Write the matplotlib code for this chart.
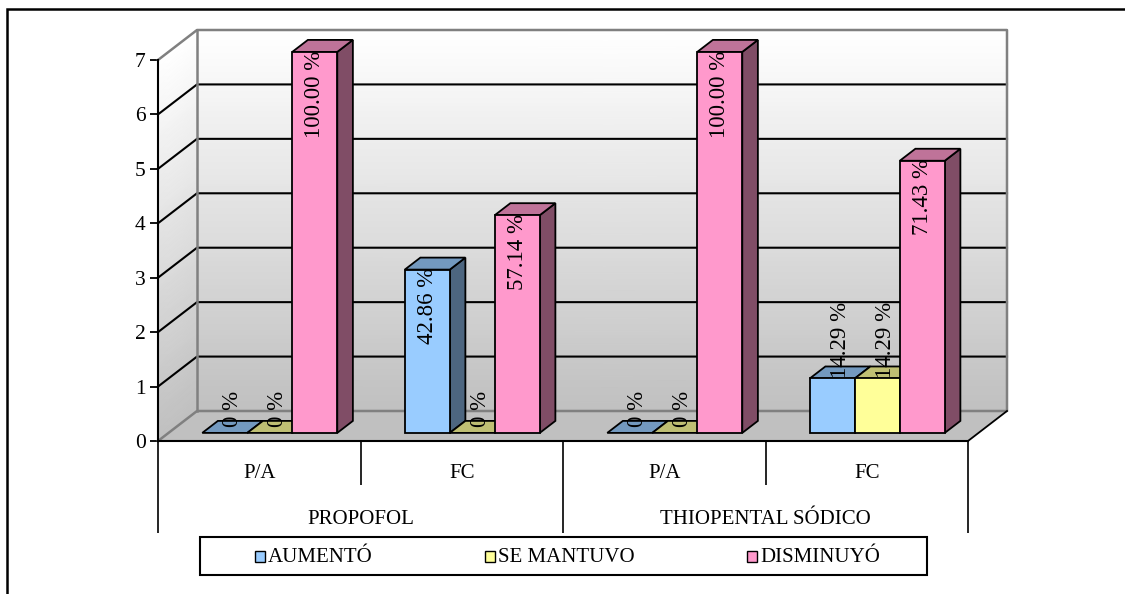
import matplotlib
matplotlib.use("Agg")
import matplotlib.pyplot as plt
import numpy as np
from matplotlib.patches import Polygon, Rectangle

plt.rcParams["font.family"] = ["Liberation Serif", "DejaVu Serif"]

# Chart values
groups = ["PROPOFOL", "THIOPENTAL SÓDICO"]
categories = ["P/A", "FC", "P/A", "FC"]
series_names = ["AUMENTÓ", "SE MANTUVO", "DISMINUYÓ"]
aumento = [0, 3, 0, 1]
se_mantuvo = [0, 0, 0, 1]
disminuyo = [7, 4, 7, 5]
aumento_pct = ["0 %", "42.86 %", "0 %", "14.29 %"]
se_mantuvo_pct = ["0 %", "0 %", "0 %", "14.29 %"]
disminuyo_pct = ["100.00 %", "57.14 %", "100.00 %", "71.43 %"]

front_colors = ["#99CCFF", "#FFFF99", "#FF99CC"]
top_colors = ["#7399BF", "#BFBF73", "#BF7399"]
side_colors = ["#4D6680", "#808050", "#804D66"]

W, H = 1125, 594
LEFT, RIGHT, Y0, Y7 = 158, 968, 441, 60
PX_X = (RIGHT - LEFT) / 4
PX_Y = (Y0 - Y7) / 7

# Depth of the box, in data units
DX = 39 / PX_X
DY = 30 / PX_Y
BAR_W = 2 / 9
BAR_D0, BAR_D1 = 0.27, 0.67


def proj(x, y, d=0.0):
    return x + d * DX, y + d * DY


def quad(ax, pts, color, edge="black", lw=1.3, z=3):
    ax.add_patch(Polygon(pts, closed=True, facecolor=color, edgecolor=edge,
                         linewidth=lw, zorder=z, clip_on=False, joinstyle="miter"))


def draw_walls(ax):
    shades = np.linspace(0.75, 1.0, 60)[:, None]
    v = np.linspace(0, 7, 60)

    # Back wall and side wall with a grey to white fade
    xb = np.array([4.0, 0.0])
    X = np.tile(xb + DX, (60, 1))
    Y = np.tile((v + DY)[:, None], (1, 2))
    ax.pcolormesh(X, Y, np.tile(shades, (1, 2)), cmap="gray", vmin=0, vmax=1,
                  shading="gouraud", zorder=1, clip_on=False)
    X = np.tile(np.array([0.0, DX]), (60, 1))
    Y = np.column_stack([v, v + DY])
    ax.pcolormesh(X, Y, np.tile(shades, (1, 2)), cmap="gray", vmin=0, vmax=1,
                  shading="gouraud", zorder=1, clip_on=False)

    # Floor
    quad(ax, [proj(0, 0), proj(4, 0), proj(4, 0, 1), proj(0, 0, 1)],
         "#C0C0C0", edge="none", z=1.2)

    # Gridlines over both walls
    for y in range(1, 7):
        ax.plot([0, DX, 4 + DX], [y, y + DY, y + DY], color="black", lw=1.5,
                zorder=1.5, clip_on=False)

    # Wall outlines
    ax.plot([0, DX, 4 + DX, 4 + DX, DX, 0],
            [0, DY, DY, 7 + DY, 7 + DY, 7], color="#808080", lw=1.8,
            zorder=1.6, clip_on=False)
    ax.plot([DX, DX], [DY, 7 + DY], color="#808080", lw=1.8, zorder=1.6, clip_on=False)
    ax.plot([4, 4 + DX], [0, DY], color="black", lw=1.3, zorder=1.7, clip_on=False)


def draw_bar(ax, x, value, k):
    ddx = (BAR_D1 - BAR_D0) * DX
    ddy = (BAR_D1 - BAR_D0) * DY
    fx, fy = proj(x, 0, BAR_D0)
    rx = fx + BAR_W
    top = fy + value
    # Side face, top face, front face
    quad(ax, [(rx, fy), (rx + ddx, fy + ddy), (rx + ddx, top + ddy), (rx, top)], side_colors[k])
    quad(ax, [(fx, top), (rx, top), (rx + ddx, top + ddy), (fx + ddx, top + ddy)], top_colors[k])
    if value > 0:
        quad(ax, [(fx, fy), (rx, fy), (rx, top), (fx, top)], front_colors[k])
    return (fx + rx) / 2, top, ddx, ddy


def draw_bars(ax):
    series = [aumento, se_mantuvo, disminuyo]
    labels = [aumento_pct, se_mantuvo_pct, disminuyo_pct]
    for i in range(len(categories)):
        for k in range(3):
            value = series[k][i]
            cx, top, ddx, ddy = draw_bar(ax, i + 1 / 6 + k * BAR_W, value, k)
            # Tall bars hold the label, short ones carry it on the top face
            if value >= 3:
                ax.text(cx, top + 0.03, labels[k][i], rotation=90, ha="center", va="top",
                        fontsize=16.5, zorder=6, clip_on=False)
            else:
                lift = ddy / 2 if value == 0 else 0
                ax.text(cx + ddx / 2, top + lift, labels[k][i], rotation=90, ha="center",
                        va="bottom", fontsize=16.5, zorder=6, clip_on=False)


def draw_axis_labels(ax):
    ax.set_xlim(0, 4)
    ax.set_ylim(0, 7)
    ax.set_yticks(range(8))
    ax.tick_params(axis="y", length=6, width=1.3, labelsize=15.5, pad=3)
    ax.set_xticks([])
    ax.patch.set_visible(False)
    for name in ["top", "right"]:
        ax.spines[name].set_visible(False)
    for name in ["left", "bottom"]:
        ax.spines[name].set_linewidth(1.5)
        ax.spines[name].set_zorder(2)

    low1 = -44 / PX_Y
    low2 = -92 / PX_Y
    ax.vlines([1, 3], low1, 0, color="black", lw=1.2, clip_on=False)
    ax.vlines([0, 2, 4], low2, 0, color="black", lw=1.2, clip_on=False)
    for i, name in enumerate(categories):
        ax.text(i + 0.5, -32 / PX_Y, name, ha="center", va="center", fontsize=15)
    for i, name in enumerate(groups):
        ax.text(2 * i + 1, -78 / PX_Y, name, ha="center", va="center", fontsize=15)


def draw_page(page):
    page.set_xlim(0, W)
    page.set_ylim(H, 0)
    page.axis("off")

    # Border runs along the top and left edges only
    page.plot([7, 7, W], [H, 9, 9], color="black", lw=1.8, solid_joinstyle="miter")

    # Legend box
    page.add_patch(Rectangle((200, 537), 727, 38, facecolor="white", edgecolor="black", lw=1.5))
    for name, color, mx in zip(series_names, front_colors, [255, 485, 747]):
        page.add_patch(Rectangle((mx, 551), 10, 11, facecolor=color, edgecolor="black", lw=1))
        page.text(mx + 13, 558, name, ha="left", va="center", fontsize=15)


def main():
    fig = plt.figure(figsize=(W / 100, H / 100), dpi=100, facecolor="white")

    page = fig.add_axes([0, 0, 1, 1])
    draw_page(page)

    ax = fig.add_axes([LEFT / W, 1 - Y0 / H, (RIGHT - LEFT) / W, (Y0 - Y7) / H])
    draw_axis_labels(ax)
    draw_walls(ax)
    draw_bars(ax)
    ax.set_xlim(0, 4)
    ax.set_ylim(0, 7)

    fig.savefig("out.png", dpi=100)
    plt.close(fig)


if __name__ == "__main__":
    main()
